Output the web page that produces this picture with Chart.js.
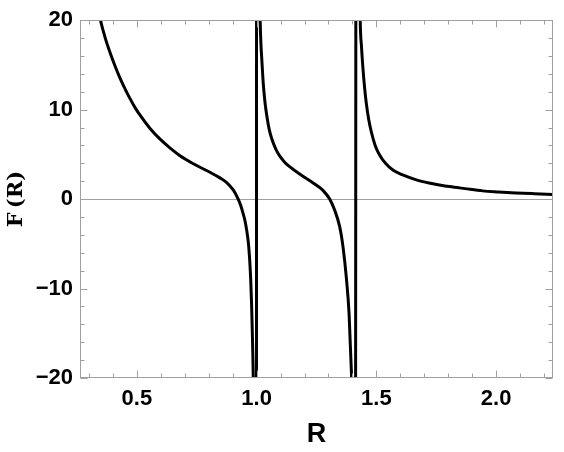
<!DOCTYPE html>
<html>
<head>
<meta charset="utf-8">
<script src="https://cdn.jsdelivr.net/npm/chart.js@4.4.1/dist/chart.umd.min.js"></script>
<style>
  body { margin: 0; background: #fff; }
  #wrap { width: 564px; height: 452px; position: relative; }
</style>
</head>
<body>
<div id="wrap"><canvas id="fr-chart"></canvas></div>
<script>
// F(R), three branches split by poles near R = 1 and R = 1.414
const rValues = [
  0.300, 0.347, 0.368, 0.389, 0.410, 0.430, 0.451, 0.472, 0.493, 0.514,
  0.555, 0.597, 0.639, 0.680, 0.736, 0.805, 0.845, 0.875, 0.903, 0.923,
  0.934, 0.944, 0.952, 0.958, 0.963, 0.967, 0.971, 0.975, 0.979, 0.982,
  0.985, 0.988, 0.994, 0.9985,
  1.0005, 1.006, 1.011, 1.0146, 1.018, 1.021, 1.0275, 1.035, 1.042, 1.0525,
  1.0625, 1.080, 1.097, 1.118, 1.139, 1.180, 1.222, 1.250, 1.278, 1.305,
  1.326, 1.347, 1.361, 1.375, 1.386, 1.396, 1.403, 1.411,
  1.4165, 1.424, 1.4325, 1.438, 1.444, 1.451, 1.458, 1.468, 1.479, 1.495,
  1.514, 1.540, 1.569, 1.610, 1.667, 1.720, 1.764, 1.805, 1.870, 1.944,
  2.010, 2.083, 2.160, 2.236, 2.260
]
const fValues = [
  26.0, 20.1, 18.0, 16.3, 14.8, 13.5, 12.3, 11.2, 10.2, 9.35,
  7.9, 6.7, 5.7, 4.85, 3.95, 3.0, 2.4, 1.85, 1.0, 0.0,
  -0.75, -1.66, -2.5, -3.4, -4.3, -5.3, -6.8, -8.8, -11.8, -14.8,
  -18.5, -23.0, -40.0, -150.0,
  150.0, 45.0, 25.0, 20.1, 17.3, 15.9, 13.0, 10.8, 9.4, 7.8,
  6.8, 5.6, 4.8, 4.1, 3.6, 2.8, 2.05, 1.55, 0.95, 0.0,
  -1.25, -3.1, -5.4, -8.9, -12.8, -19.5, -30.0, -120.0,
  120.0, 40.0, 20.1, 17.0, 14.6, 12.4, 10.7, 8.9, 7.5, 6.0,
  4.9, 3.95, 3.25, 2.7, 2.15, 1.8, 1.58, 1.4, 1.17, 0.92,
  0.8, 0.69, 0.6, 0.52, 0.5
]

const xTickValues = [0.5, 1.0, 1.5, 2.0]
const yTickValues = [-20, -10, 0, 10, 20]

const sansFont = "'Liberation Sans', Arial, sans-serif"
const frameColor = '#a0a0a0'

const points = rValues.map((r, i) => ({ x: r, y: fValues[i] }))

const hLine = (ctx, x1, y1, x2, y2) => {
  ctx.beginPath()
  ctx.moveTo(x1, y1)
  ctx.lineTo(x2, y2)
  ctx.stroke()
}

// mathematica style frame: zero axis, box, inward ticks on all sides
const framePlugin = {
  id: 'mmaFrame',
  beforeDatasetsDraw(chart) {
    const { ctx, chartArea: a, scales: { y } } = chart
    ctx.save()
    ctx.strokeStyle = frameColor
    ctx.lineWidth = 1
    const y0 = Math.round(y.getPixelForValue(0)) + 0.5
    hLine(ctx, a.left, y0, a.right, y0)
    ctx.restore()
  },
  afterDatasetsDraw(chart) {
    const { ctx, chartArea: a, scales: { x, y } } = chart
    ctx.save()
    ctx.strokeStyle = frameColor
    ctx.lineWidth = 1
    const L = Math.round(a.left) + 0.5, R = Math.round(a.right) - 0.5
    const T = Math.round(a.top) + 0.5, B = Math.round(a.bottom) - 0.5
    ctx.strokeRect(L, T, R - L, B - T)

    for (let i = 3; i <= 22; i++) {
      const v = i / 10
      const len = xTickValues.some(t => Math.abs(t - v) < 1e-6) ? 7 : 4
      const px = Math.round(x.getPixelForValue(v)) + 0.5
      hLine(ctx, px, B, px, B - len)
      hLine(ctx, px, T, px, T + len)
    }
    for (let v = -20; v <= 20; v += 2) {
      const len = v % 10 === 0 ? 7 : 4
      const py = Math.round(y.getPixelForValue(v)) + 0.5
      hLine(ctx, L, py, L + len, py)
      hLine(ctx, R, py, R - len, py)
    }
    ctx.restore()
  }
}

const config = {
  type: 'line',
  data: {
    datasets: [{
      data: points,
      borderColor: '#000',
      borderWidth: 3,
      pointRadius: 0,
      fill: false,
      cubicInterpolationMode: 'monotone',
      clip: 0
    }]
  },
  options: {
    responsive: true,
    maintainAspectRatio: false,
    animation: false,
    events: [],
    layout: { padding: { top: 17, right: 11, left: 0, bottom: 0 } },
    plugins: { legend: { display: false }, tooltip: { enabled: false } },
    scales: {
      x: {
        type: 'linear',
        min: 0.2625,
        max: 2.2375,
        afterBuildTicks: s => { s.ticks = xTickValues.map(v => ({ value: v })) },
        afterFit: s => { s.height = 74 },
        grid: { display: false, drawTicks: false },
        border: { display: false },
        ticks: {
          autoSkip: false,
          maxRotation: 0,
          padding: 8,
          color: '#000',
          font: { family: sansFont, size: 22, weight: 'bold' },
          callback: v => v.toFixed(1)
        },
        title: {
          display: true,
          text: 'R',
          color: '#000',
          font: { family: sansFont, size: 27, weight: 'bold' },
          padding: { top: 0, bottom: 1 }
        }
      },
      y: {
        min: -20,
        max: 20,
        afterBuildTicks: s => { s.ticks = yTickValues.map(v => ({ value: v })) },
        afterFit: s => { s.width = 80 },
        grid: { display: false, drawTicks: false },
        border: { display: false },
        ticks: {
          padding: 7,
          color: '#000',
          font: { family: sansFont, size: 22, weight: 'bold' },
          callback: v => v < 0 ? '\u2212' + Math.abs(v) : String(v)
        },
        title: {
          display: true,
          text: 'F\u2009(R)',
          color: '#000',
          font: { family: "'DejaVu Serif', serif", size: 21, weight: 'bold' },
          padding: { top: 4, bottom: 0 }
        }
      }
    }
  },
  plugins: [framePlugin]
}

new Chart(document.getElementById('fr-chart'), config)
</script>
</body>
</html>
